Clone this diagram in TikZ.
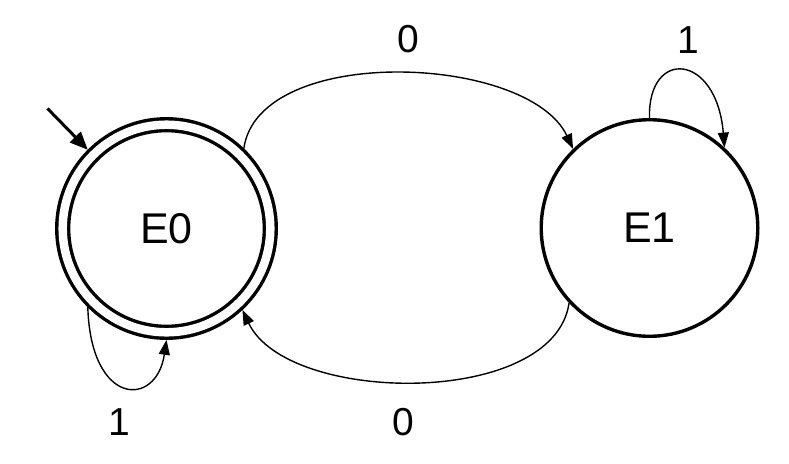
\documentclass[tikz,border=0pt]{standalone}
\usepackage{fontspec}
\setmainfont{Liberation Sans}
\usetikzlibrary{arrows.meta}
\begin{document}
\begin{tikzpicture}[x=1pt,y=-1pt,
  state/.style={circle,draw,line width=3.4pt,inner sep=0pt,font=\fontsize{43}{43}\selectfont},
  edgeline/.style={line width=1.4pt,-{Triangle[length=15pt,width=11pt]}},
  lbl/.style={font=\fontsize{39}{39}\selectfont,inner sep=0pt}]
\useasboundingbox (0,0) rectangle (789,463);
\node[state,double,double distance=8.5pt,minimum size=207.6pt,outer sep=7.5pt] (E0) at (166.5,228.5) {E0};
\node[state,minimum size=216.6pt,outer sep=1.7pt] (E1) at (649.5,228) {E1};
\coordinate (init) at (47.5,108.5);
\draw[line width=3pt,-{Triangle[length=18pt,width=15pt]}] (init) -- (E0.135);
\draw[edgeline] (E0.46) .. controls +(15,-105) and +(-45,-95) .. (E1.134);
\draw[edgeline] (E1.223) .. controls +(-15,105) and +(45,95) .. (E0.313);
\draw[edgeline] (E0.225) .. controls +(3,100) and +(-10,68) .. (E0.270);
\draw[edgeline] (E1.90) .. controls +(-2,-70) and +(-8,-95) .. (E1.47);
\node[lbl] (l0top) at (408,39) {0};
\node[lbl] (l1top) at (688,40) {1};
\node[lbl] (l1bot) at (119,422) {1};
\node[lbl] (l0bot) at (403,422) {0};
\end{tikzpicture}
\end{document}
